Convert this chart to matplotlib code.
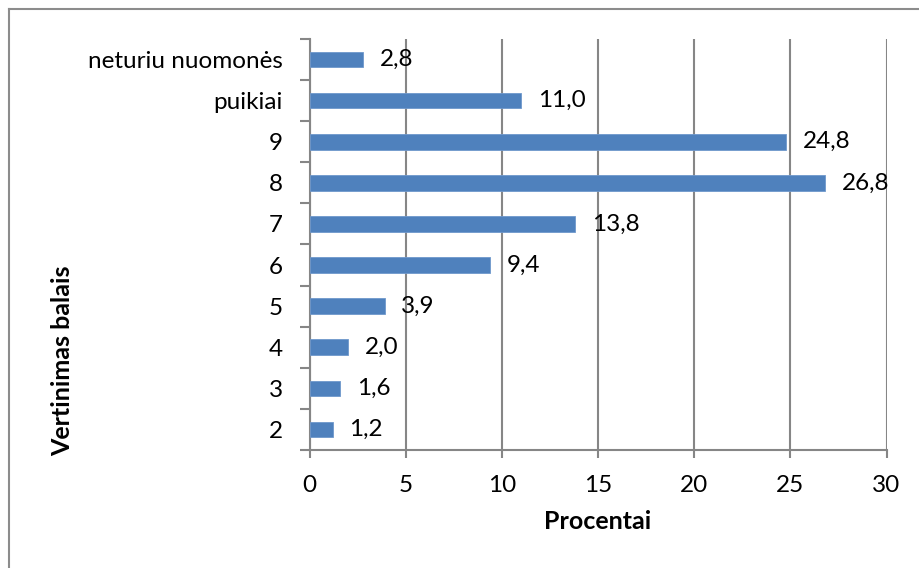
import matplotlib.pyplot as plt
from matplotlib.lines import Line2D
from matplotlib.ticker import MultipleLocator, FixedLocator

plt.rcParams['font.family'] = ['Lato', 'DejaVu Sans']

categories = ['2', '3', '4', '5', '6', '7', '8', '9', 'puikiai', 'neturiu nuomonės']
percentages = [1.2, 1.6, 2.0, 3.9, 9.4, 13.8, 26.8, 24.8, 11.0, 2.8]

bar_color = '#4F81BD'
axis_gray = '#868686'


def fmt(v):
    return f'{v:.1f}'.replace('.', ',')


fig = plt.figure(figsize=(9.19, 5.68), dpi=100)
ax = fig.add_axes([309.5 / 919, 118 / 568, 577 / 919, 411 / 568])

ypos = list(range(len(categories)))
ax.barh(ypos, percentages, height=0.38, color=bar_color,
        edgecolor='#6f98cc', linewidth=0.6, zorder=3)

for y, v in zip(ypos, percentages):
    ax.annotate(fmt(v), xy=(v, y), xytext=(12, 0),
                textcoords='offset points', va='center', ha='left',
                fontsize=17.5, color='black', zorder=4)

ax.set_xlim(0, 30)
ax.set_ylim(-0.5, len(categories) - 0.5)
ax.xaxis.set_major_locator(MultipleLocator(5))
ax.set_yticks(ypos)
ax.set_yticklabels(categories)
ax.yaxis.set_minor_locator(FixedLocator([i - 0.5 for i in range(len(categories) + 1)]))

ax.grid(axis='x', color=axis_gray, linewidth=1.5, zorder=0)
ax.tick_params(axis='x', direction='out', length=6, width=1.5,
               color=axis_gray, labelsize=17.5, pad=12)
ax.tick_params(axis='y', which='major', length=0, labelsize=17.5, pad=19)
ax.tick_params(axis='y', which='minor', direction='out', length=7,
               width=1.5, color=axis_gray)

for side in ['top', 'right']:
    ax.spines[side].set_visible(False)
for side in ['left', 'bottom']:
    ax.spines[side].set_color(axis_gray)
    ax.spines[side].set_linewidth(1.5)

ax.set_xlabel('Procentai', fontsize=18, fontweight='bold', labelpad=10)
ax.set_ylabel('Vertinimas balais', fontsize=18, fontweight='bold')
ax.yaxis.set_label_coords(74 / 919, 207 / 568, transform=fig.transFigure)

# chart frame
fig.add_artist(Line2D([9 / 919, 1.0], [1 - 9 / 568, 1 - 9 / 568],
                      color='#8c8c8c', linewidth=1.5))
fig.add_artist(Line2D([9 / 919, 9 / 919], [0.0, 1 - 9 / 568],
                      color='#8c8c8c', linewidth=1.5))

plt.savefig('out.png', dpi=100)
